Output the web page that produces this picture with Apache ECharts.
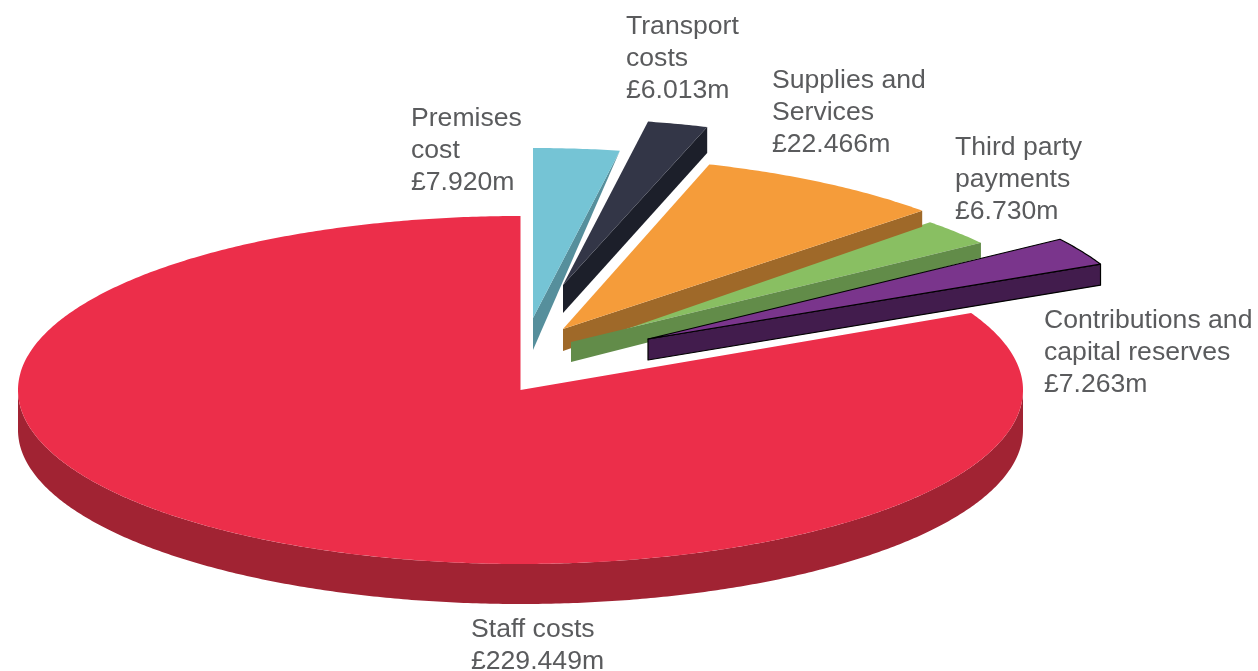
<!DOCTYPE html>
<html>
<head>
<meta charset="utf-8">
<script src="https://cdn.jsdelivr.net/npm/echarts@6/dist/echarts.min.js"></script>
<style>html,body{margin:0;padding:0;background:#fff}#c{width:1258px;height:671px}</style>
</head>
<body>
<div id="c"></div>
<script>
// Data: clockwise from 12 o'clock
const categories = ['Premises\ncost', 'Transport\ncosts', 'Supplies and\nServices', 'Third party\npayments', 'Contributions and\ncapital reserves', 'Staff costs'];
const values = [7.920, 6.013, 22.466, 6.730, 7.263, 229.449];

// Style
const topColors = ['#75C4D5', '#333647', '#F59C3A', '#89BF62', '#7A358C', '#EC2E4A'];
const sideColors = ['#568F9C', '#1C1F2A', '#9F6929', '#628C49', '#421C4D', '#A12333'];
const strokeColors = [null, null, null, null, '#000', null];

// Projection of each exploded slice:
// apex x, apex y, radius x, radius y, depth at apex, depth at rim, perspective shear, start-angle nudge (deg)
const sliceLayout = [
  [533, 318, 491, 170, 32, 0, 0, 0],
  [563, 285, 453, 166, 28, 26, 5, 0],
  [563, 329, 500, 173, 22, 16, -8, 0],
  [571, 342, 512, 175, 20, 15, -21, 0],
  [648, 339, 500, 176, 21, 21, 0, 0],
  [520.5, 390, 502.5, 174, 40, 40, 0, -1.1]
];
// Draw order of the top face and side face of each slice
const topOrder = [1, 1, 2, 1, 5, 0];
const sideOrder = [1, 1, 2, 3, 5, 0];
// Left edge and first-line centre of each label
const labelPos = [[411, 119], [626, 27], [772, 81], [955, 148], [1044, 321], [471, 630]];
const labelColor = '#5A5B5D';

const total = values.reduce((a, b) => a + b, 0);

function renderSlice(params, api) {
  const i = params.dataIndex;
  let start = 0;
  for (let k = 0; k < i; k++) start += values[k];
  const [ax, ay, rx, ry, dApex, dRim, shear, nudge] = sliceLayout[i];
  const a0 = start / total * 2 * Math.PI + nudge * Math.PI / 180;
  const a1 = (start + api.value(0)) / total * 2 * Math.PI;
  const rim = a => [ax + rx * Math.sin(a) + shear * Math.cos(a), ay - ry * Math.cos(a)];
  const steps = Math.max(8, Math.ceil((a1 - a0) / (Math.PI / 360)));
  const arc = [];
  for (let s = 0; s <= steps; s++) arc.push(rim(a0 + (a1 - a0) * s / steps));

  const sidePts = [];
  if (a1 - a0 > Math.PI) {
    // large slice: the front wall of the rim
    const b0 = Math.max(a0, Math.PI / 2), b1 = Math.min(a1, 1.5 * Math.PI);
    const front = [];
    for (let s = 0; s <= 360; s++) front.push(rim(b0 + (b1 - b0) * s / 360));
    front.forEach(p => sidePts.push(p));
    front.slice().reverse().forEach(p => sidePts.push([p[0], p[1] + dApex]));
  } else {
    const e = arc[arc.length - 1];
    sidePts.push(e, [e[0], e[1] + dRim], [ax, ay + dApex], [ax, ay]);
  }
  const stroke = strokeColors[i];
  const line = stroke ? { stroke: stroke, lineWidth: 1.2, lineJoin: 'round' } : {};
  const [lx, ly] = labelPos[i];
  return {
    type: 'group',
    children: [
      { type: 'polygon', z2: sideOrder[i], shape: { points: sidePts },
        style: Object.assign({ fill: sideColors[i] }, line) },
      { type: 'polygon', z2: topOrder[i], shape: { points: [[ax, ay]].concat(arc) },
        style: Object.assign({ fill: topColors[i] }, line) },
      { type: 'text', z2: 10, style: {
          x: lx, y: ly - 16,
          text: categories[i] + '\n£' + api.value(0).toFixed(3) + 'm',
          fill: labelColor, font: '26.6px "Liberation Sans", Arial, sans-serif',
          lineHeight: 32, align: 'left', verticalAlign: 'top' } }
    ]
  };
}

const chart = echarts.init(document.getElementById('c'), null, { renderer: 'canvas' });
chart.setOption({
  animation: false,
  backgroundColor: '#fff',
  series: [{
    type: 'custom',
    coordinateSystem: 'none',
    silent: true,
    clip: false,
    renderItem: renderSlice,
    data: values.map((v, i) => ({ name: categories[i], value: [v] }))
  }]
});
</script>
</body>
</html>
